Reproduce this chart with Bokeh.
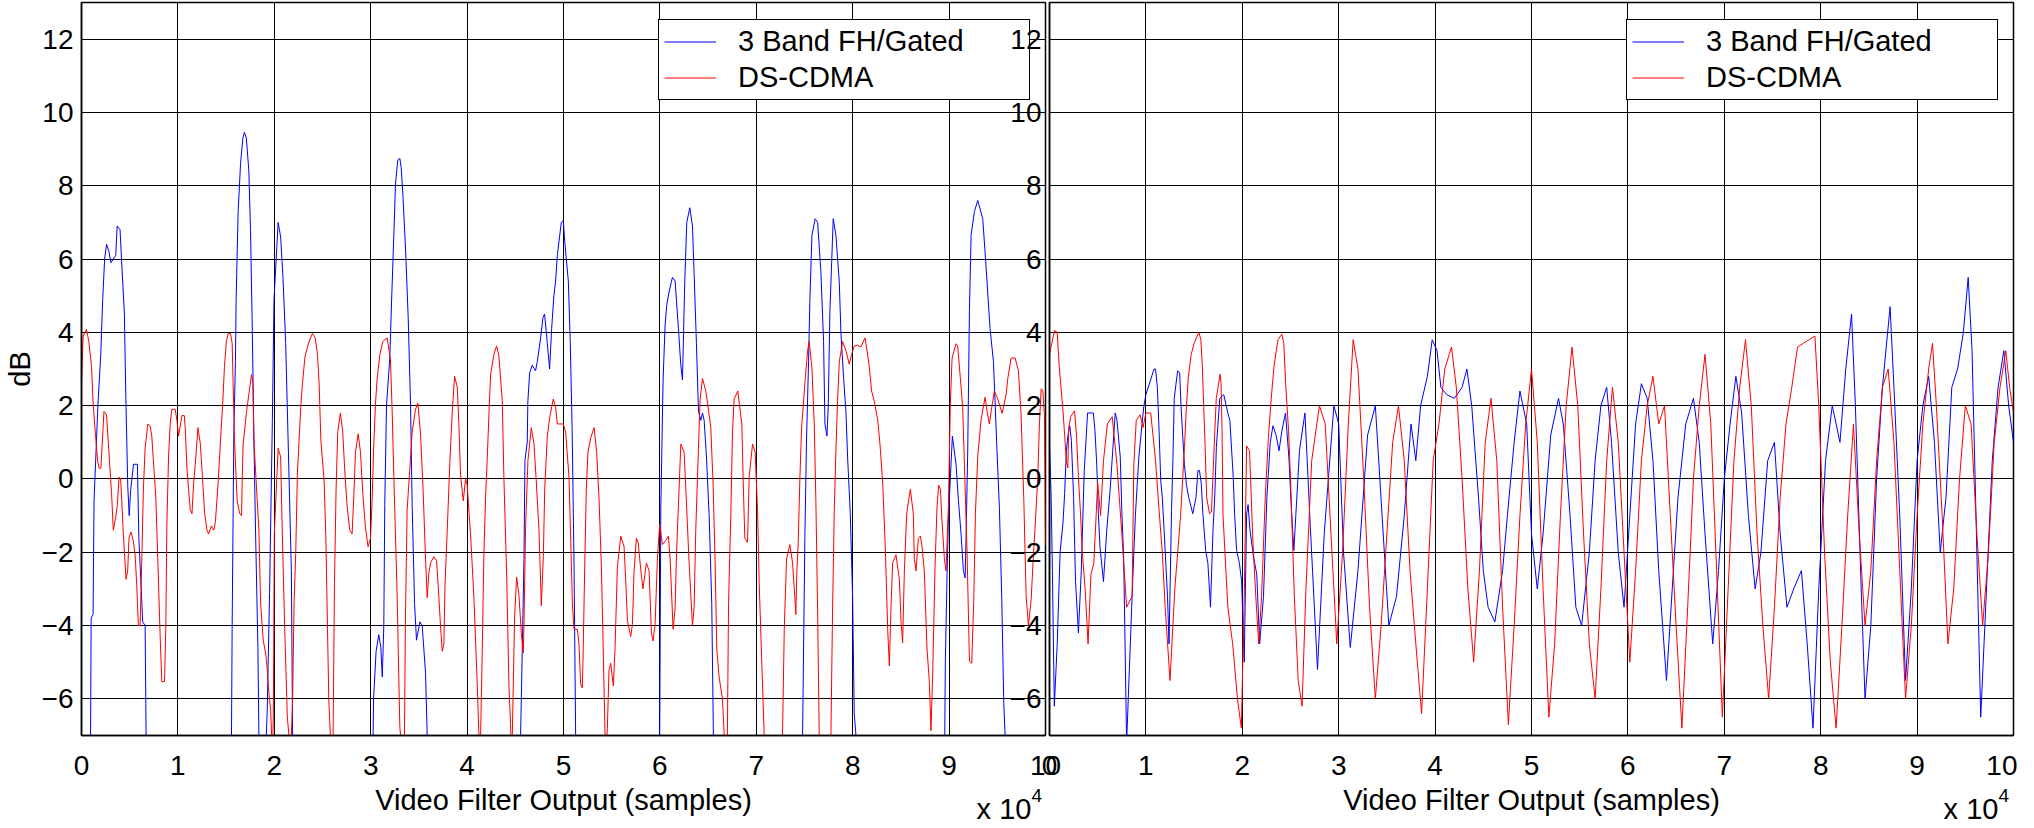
from bokeh.plotting import figure
from bokeh.layouts import row, column
from bokeh.models import FixedTicker, Legend, LegendItem, Range1d, Div
from bokeh.embed import file_html
from bokeh.resources import INLINE

# ---------------- data (x in units of 10^4 samples, y in dB) ----------------
x_ticks = [0, 1, 2, 3, 4, 5, 6, 7, 8, 9, 10]
y_ticks = [-6, -4, -2, 0, 2, 4, 6, 8, 10, 12]
series_names = ["3 Band FH/Gated", "DS-CDMA"]
x_label = "Video Filter Output (samples)"
y_label = "dB"
x_scale_note = "x 10"
x_scale_exp = "4"

# Left panel, blue (3 Band FH/Gated)
left_fh_x = [0, 0.09, 0.10, 0.12, 0.13, 0.17, 0.20, 0.22, 0.24, 0.26, 0.285, 0.305, 0.33, 0.355, 0.37, 0.40, 0.415, 0.445, 0.46, 0.48, 0.495, 0.51, 0.54, 0.58, 0.595, 0.635, 0.66, 0.67, 0.69,
             1.55, 1.556, 1.5625, 1.58, 1.597, 1.604, 1.625, 1.65, 1.674, 1.69, 1.71, 1.736, 1.753, 1.77, 1.79, 1.806, 1.83, 1.84, 1.85,
             1.91, 1.917, 1.927, 1.951, 1.98, 1.997, 2.04, 2.066, 2.09, 2.118, 2.142, 2.177, 2.19, 2.2,
             3.02, 3.025, 3.03, 3.056, 3.084, 3.105, 3.12, 3.136, 3.146, 3.164, 3.198, 3.216, 3.24, 3.257, 3.281, 3.302, 3.316, 3.333, 3.361, 3.389, 3.413, 3.43, 3.455, 3.475, 3.51, 3.534, 3.569, 3.586, 3.6,
             4.55, 4.555, 4.572, 4.59, 4.6, 4.624, 4.63, 4.649, 4.676, 4.71, 4.728, 4.763, 4.787, 4.804, 4.832, 4.856, 4.877, 4.9, 4.918, 4.936, 4.977, 4.998, 5.012, 5.05, 5.07, 5.09, 5.109, 5.126, 5.14,
             5.99, 5.998, 6.009, 6.033, 6.054, 6.071, 6.095, 6.13, 6.158, 6.192, 6.217, 6.234, 6.258, 6.279, 6.31, 6.338, 6.355, 6.379, 6.4, 6.424, 6.442, 6.459, 6.483, 6.511, 6.538, 6.555, 6.57,
             7.47, 7.48, 7.504, 7.521, 7.542, 7.556, 7.577, 7.611, 7.636, 7.67, 7.698, 7.712, 7.733, 7.746, 7.764, 7.798, 7.826, 7.861, 7.878, 7.906, 7.93, 7.947, 7.975, 7.999, 8.016, 8.034, 8.05,
             8.95, 8.955, 8.961, 8.979, 8.993, 9.034, 9.072, 9.096, 9.124, 9.148, 9.166, 9.176, 9.193, 9.211, 9.228, 9.263, 9.297, 9.349, 9.373, 9.425, 9.46, 9.494, 9.522, 9.546, 9.567, 9.581, 9.6, 10.0]
left_fh_y = [-12, -9, -3.8, -3.7, -0.6, 2.0, 3.4, 4.9, 6.0, 6.4, 6.2, 5.9, 6.0, 6.1, 6.9, 6.8, 6.0, 4.5, 2.2, -0.2, -1.0, -0.3, 0.4, 0.4, -1.6, -3.9, -4.0, -7, -12,
             -12, -7, -4.1, 1.17, 3.2, 4.9, 7.3, 8.6, 9.3, 9.46, 9.3, 8.4, 6.8, 4.35, 0.84, -1.5, -4.6, -7, -12,
             -12, -7, -6.3, -3.1, 1.6, 4.9, 7.0, 6.6, 5.5, 3.7, 1.2, -2.5, -7, -12,
             -12, -7, -6.0, -4.7, -4.25, -4.6, -5.4, -4.0, -0.7, 2.0, 3.3, 4.8, 6.65, 8.05, 8.7, 8.75, 8.5, 7.8, 6.3, 4.4, 2.07, -0.7, -3.4, -4.4, -3.9, -4.0, -5.3, -7, -12,
             -12, -7, -4.7, -2.2, 0.5, 1.0, 2.1, 2.9, 3.1, 2.95, 3.2, 3.85, 4.4, 4.5, 3.7, 3.0, 4.1, 5.0, 5.4, 6.1, 7.0, 7.05, 6.5, 5.4, 3.75, 1.3, -2.3, -7, -12,
             -12, -7, -0.84, 2.7, 4.2, 4.75, 5.1, 5.5, 5.4, 4.1, 3.1, 2.7, 5.4, 7.0, 7.4, 6.9, 5.6, 3.7, 1.85, 1.6, 1.8, 1.6, 0.6, -1.0, -3.4, -7, -12,
             -12, -7, -1.6, 1.06, 3.2, 4.9, 6.65, 7.1, 7.0, 5.65, 3.75, 1.5, 1.17, 1.95, 4.6, 7.1, 6.65, 5.36, 3.97, 2.74, 1.84, 0.6, -0.95, -3.2, -6.4, -7, -12,
             -12, -7, -5.0, -2.6, -1.06, 1.17, 0.4, -0.56, -1.5, -2.5, -2.7, -1.6, 0.73, 4.6, 6.65, 7.3, 7.6, 7.1, 6.2, 4.1, 3.2, 0.95, -0.8, -3.24, -6.1, -7, -12, -12]

# Left panel, red (DS-CDMA)
left_ds_x = [0.0, 0.01, 0.017, 0.052, 0.076, 0.104, 0.12, 0.146, 0.167, 0.184, 0.201, 0.215, 0.233, 0.26, 0.278, 0.312, 0.33, 0.354, 0.372, 0.389, 0.406, 0.417, 0.434, 0.462, 0.479, 0.493, 0.514, 0.538, 0.556, 0.573, 0.59, 0.608, 0.625, 0.642, 0.66, 0.688, 0.712, 0.729, 0.771, 0.792, 0.816, 0.833, 0.861, 0.875, 0.885, 0.903, 0.92, 0.937, 0.972, 0.99,
             1.007, 1.042, 1.066, 1.076, 1.094, 1.111, 1.128, 1.146, 1.163, 1.18, 1.208, 1.233, 1.257, 1.278, 1.302, 1.319, 1.347, 1.372, 1.389, 1.417, 1.441, 1.465, 1.483, 1.503, 1.521, 1.545, 1.563, 1.573, 1.587, 1.615, 1.642, 1.66, 1.667, 1.677, 1.712, 1.764, 1.778, 1.788, 1.84, 1.858, 1.885, 1.91, 1.927, 1.944, 1.962, 1.98, 1.99,
             2.0, 2.04, 2.066, 2.083, 2.108, 2.135, 2.17, 2.19, 2.205, 2.222, 2.24, 2.274, 2.292, 2.319, 2.361, 2.396, 2.424, 2.448, 2.465, 2.483, 2.517, 2.535, 2.552, 2.565, 2.59, 2.61, 2.624, 2.641, 2.658, 2.686, 2.71, 2.731, 2.755, 2.783, 2.807, 2.825, 2.842, 2.87, 2.894, 2.918, 2.946, 2.973, 2.998,
             3.015, 3.032, 3.05, 3.067, 3.095, 3.126, 3.171, 3.205, 3.223, 3.24, 3.274, 3.302, 3.326, 3.35, 3.361, 3.378, 3.406, 3.43, 3.465, 3.489, 3.517, 3.544, 3.569, 3.586, 3.603, 3.621, 3.655, 3.683, 3.7, 3.724, 3.742, 3.759, 3.77, 3.794, 3.821, 3.846, 3.87, 3.898, 3.915, 3.932, 3.96, 3.984,
             4.001, 4.036, 4.07, 4.105, 4.123, 4.13, 4.14, 4.157, 4.174, 4.192, 4.209, 4.226, 4.244, 4.278, 4.306, 4.33, 4.365, 4.382, 4.41, 4.434, 4.451, 4.46, 4.469, 4.493, 4.514, 4.538, 4.562, 4.583, 4.59, 4.607, 4.631, 4.666, 4.694, 4.721, 4.746, 4.77, 4.791, 4.805, 4.832, 4.86, 4.894, 4.919, 4.936, 4.998,
             5.022, 5.057, 5.074, 5.092, 5.109, 5.144, 5.161, 5.178, 5.195, 5.202, 5.22, 5.237, 5.254, 5.282, 5.317, 5.344, 5.369, 5.393, 5.414, 5.431, 5.44, 5.455, 5.472, 5.49, 5.517, 5.535, 5.559, 5.594, 5.628, 5.645, 5.663, 5.697, 5.715, 5.732, 5.756, 5.774, 5.801, 5.825, 5.86, 5.888, 5.912, 5.929, 5.95, 5.974, 5.998,
             6.026, 6.061, 6.088, 6.106, 6.137, 6.158, 6.172, 6.192, 6.217, 6.251, 6.268, 6.303, 6.338, 6.355, 6.372, 6.4, 6.417, 6.442, 6.476, 6.494, 6.528, 6.552, 6.573, 6.59, 6.615, 6.649, 6.667, 6.684, 6.7, 6.712, 6.736, 6.753, 6.77, 6.808, 6.85, 6.864, 6.881, 6.909, 6.926, 6.961, 6.988,
             7.013, 7.03, 7.058, 7.082, 7.1, 7.26, 7.272, 7.29, 7.314, 7.348, 7.376, 7.404, 7.41, 7.421, 7.435, 7.452, 7.47, 7.508, 7.532, 7.549, 7.577, 7.601, 7.618, 7.636, 7.653, 7.67, 7.76, 7.774, 7.791, 7.809, 7.826, 7.843, 7.861, 7.895, 7.93, 7.964, 7.989,
             8.016, 8.051, 8.086, 8.127, 8.148, 8.172, 8.196, 8.224, 8.259, 8.283, 8.311, 8.338, 8.363, 8.38, 8.397, 8.414, 8.449, 8.484, 8.501, 8.518, 8.536, 8.56, 8.598, 8.629, 8.639, 8.657, 8.681, 8.702, 8.719, 8.743, 8.771, 8.795, 8.812, 8.83, 8.854, 8.875, 8.892, 8.91, 8.927, 8.951, 8.968, 8.993,
             9.013, 9.031, 9.072, 9.089, 9.117, 9.141, 9.159, 9.186, 9.211, 9.235, 9.256, 9.273, 9.297, 9.332, 9.373, 9.394, 9.418, 9.436, 9.47, 9.505, 9.55, 9.591, 9.609, 9.643, 9.685, 9.719, 9.747, 9.775, 9.799, 9.823, 9.851, 9.875, 9.893, 9.92, 9.937, 9.955, 9.972, 9.989, 10.0]
left_ds_y = [2.6, 3.35, 3.9, 4.08, 3.75, 3.07, 2.1, 1.17, 0.5, 0.28, 0.3, 0.95, 1.84, 1.75, 1.0, -0.4, -1.4, -1.05, -0.72, 0.05, 0.0, -0.56, -1.5, -2.74, -2.5, -1.6, -1.45, -1.7, -2.07, -2.9, -4.0, -4.0, -2.24, -0.28, 0.84, 1.5, 1.45, 1.17, -0.5, -2.24, -4.3, -5.53, -5.53, -4.0, -1.28, 0.6, 1.5, 1.9, 1.9, 1.6,
             1.17, 1.73, 1.73, 1.4, 0.28, -0.28, -0.84, -0.95, -0.11, 0.39, 1.4, 0.95, -0.06, -0.95, -1.4, -1.5, -1.28, -1.4, -1.17, -0.11, 1.0, 2.07, 3.07, 3.75, 3.97, 3.97, 3.7, 2.6, 1.06, -0.61, -0.95, -1.0, -0.06, 0.95, 1.84, 2.85, 2.6, 1.06, -1.4, -3.4, -4.4, -4.75, -5.2, -5.85, -6.3, -7.5, -6.5,
             -1.5, 0.84, 0.6, -1.5, -4.1, -6.5, -7.5, -6.0, -3.4, -2.07, 0.17, 1.95, 2.6, 3.35, 3.75, 3.97, 3.85, 3.4, 2.6, 1.06, -0.06, -1.6, -4.1, -6.0, -7.5, -7.0, -2.85, -0.28, 1.28, 1.8, 1.28, 0.22, -0.73, -1.4, -1.5, -0.45, 0.73, 1.23, 0.73, -0.39, -1.34, -1.85, -1.62,
             -0.56, 0.95, 2.07, 2.74, 3.4, 3.75, 3.85, 3.25, 1.84, 0.06, -3.13, -6.76, -7.5, -7.0, -3.74, -0.84, 0.28, 1.28, 1.9, 2.07, 1.23, -0.34, -2.18, -3.24, -2.57, -2.29, -2.12, -2.23, -2.9, -4.0, -4.7, -4.5, -2.96, -1.4, 0.45, 1.84, 2.8, 2.51, 1.5, 0.11, -0.6, 0.0,
             -0.17, -1.51, -3.2, -5.6, -7.0, -7.5, -7.0, -4.7, -2.07, -0.5, 0.56, 1.73, 2.85, 3.4, 3.63, 3.35, 2.12, 0.0, -2.57, -5.64, -6.7, -7.5, -7.0, -3.74, -2.68, -3.18, -4.19, -4.75, -3.97, -1.28, 0.5, 1.4, 0.95, -0.22, -1.4, -3.46, -2.12, -0.28, 1.17, 1.73, 2.18, 1.95, 1.5, 1.5,
             1.28, 0.05, -1.56, -3.4, -4.1, -4.1, -4.53, -5.6, -5.7, -5.0, -2.4, -0.22, 0.73, 1.12, 1.4, 0.73, -0.56, -2.4, -4.9, -7.0, -7.5, -6.8, -5.2, -5.03, -5.65, -4.6, -2.4, -1.56, -1.84, -2.74, -3.86, -4.3, -3.97, -2.51, -1.62, -1.73, -2.46, -3.0, -2.29, -2.51, -4.2, -4.42, -3.97, -2.18, -1.23,
             -1.79, -1.68, -1.56, -2.18, -4.1, -3.52, -2.07, -0.73, 0.95, 0.73, -0.22, -2.29, -4.0, -3.5, -1.4, 0.84, 2.18, 2.74, 2.4, 2.07, 1.4, -0.17, -2.29, -4.64, -5.42, -6.0, -7.0, -7.3, -7.0, -3.4, -0.95, 1.28, 2.18, 2.4, 1.5, -0.06, -1.62, -1.73, 0.06, 0.95, 0.73,
             -0.84, -2.85, -5.1, -7.0, -7.6, -7.6, -7.0, -4.1, -2.18, -1.79, -2.29, -3.4, -3.7, -2.51, -1.73, 0.0, 1.4, 2.74, 3.5, 3.75, 3.02, 1.5, -0.6, -3.6, -7.0, -7.6, -7.6, -7.0, -3.6, -0.84, 0.78, 2.12, 3.2, 3.75, 3.5, 3.13, 3.4,
             3.63, 3.65, 3.6, 3.85, 3.52, 3.07, 2.4, 2.12, 1.62, 0.95, -0.11, -1.85, -4.1, -5.1, -3.52, -2.29, -2.07, -2.74, -3.86, -4.47, -2.51, -0.95, -0.28, -0.95, -2.18, -2.51, -1.62, -1.56, -1.84, -2.51, -4.64, -5.53, -6.87, -5.3, -2.4, -0.73, -0.17, -0.28, -1.17, -2.18, -2.51, -0.73,
             2.07, 3.3, 3.69, 3.63, 2.74, 1.95, 0.39, -1.96, -4.97, -5.03, -3.3, -0.95, 0.61, 1.62, 2.23, 1.84, 1.5, 1.84, 2.4, 2.18, 1.79, 2.29, 2.74, 3.3, 3.3, 2.96, 1.73, -0.56, -3.18, -4.0, -3.3, -2.07, -1.28, 0.06, 1.5, 2.46, 2.4, 1.73, -1.8]

# Right panel, blue (3 Band FH/Gated)
right_fh_x = [0, 0.017, 0.03, 0.05, 0.08, 0.11, 0.14, 0.157, 0.175, 0.192, 0.21, 0.227, 0.25, 0.27, 0.3, 0.33, 0.36, 0.395, 0.455, 0.472, 0.49, 0.507, 0.524, 0.56, 0.594, 0.629, 0.682, 0.7, 0.734, 0.75, 0.769, 0.8,
              0.857, 0.875, 0.892, 0.91, 0.927, 0.96, 0.979, 1.0, 1.049, 1.084, 1.10, 1.119, 1.137, 1.154, 1.17, 1.189, 1.224, 1.24, 1.266, 1.28, 1.294, 1.329, 1.35, 1.364, 1.399, 1.42, 1.444, 1.486, 1.52, 1.54, 1.556, 1.575, 1.591, 1.62, 1.643, 1.67,
              1.696, 1.714, 1.731, 1.766, 1.808, 1.85, 1.871, 1.906, 1.92, 1.941, 1.97, 1.993, 2.02, 2.045, 2.06, 2.08, 2.115, 2.15, 2.18, 2.22, 2.255, 2.29, 2.318, 2.35, 2.381, 2.41, 2.448, 2.483, 2.51, 2.535, 2.555, 2.594,
              2.65, 2.7, 2.78, 2.85, 2.95, 3.0, 3.05, 3.12, 3.2, 3.3, 3.38, 3.45, 3.52, 3.6, 3.68, 3.75, 3.8, 3.85, 3.92, 3.97, 4.02, 4.06, 4.12, 4.2, 4.28, 4.33, 4.38, 4.45, 4.5, 4.55, 4.62, 4.7, 4.75, 4.82, 4.88, 4.95,
              5.0, 5.06, 5.12, 5.2, 5.28, 5.33, 5.4, 5.46, 5.52, 5.6, 5.66, 5.72, 5.78, 5.83, 5.9, 5.96, 6.02, 6.08, 6.14, 6.2, 6.26, 6.32, 6.4, 6.46, 6.52, 6.6, 6.68, 6.74, 6.8, 6.88, 6.94,
              7.0, 7.06, 7.12, 7.18, 7.25, 7.32, 7.38, 7.45, 7.52, 7.58, 7.65, 7.72, 7.8, 7.86, 7.92, 7.98, 8.05, 8.12, 8.2, 8.26, 8.32, 8.36, 8.42, 8.46, 8.52, 8.58, 8.64, 8.72, 8.76, 8.82, 8.88, 8.94,
              9.0, 9.06, 9.12, 9.18, 9.24, 9.3, 9.36, 9.42, 9.48, 9.53, 9.57, 9.62, 9.66, 9.72, 9.78, 9.84, 9.9, 9.95, 10.0]
right_fh_y = [0.95, -0.5, -2.5, -6.2, -4.5, -2.0, -1.2, -0.4, 0.77, 1.2, 1.45, 1.05, -0.5, -2.8, -4.2, -2.5, 0.2, 1.8, 1.8, 1.3, 0.4, -0.95, -1.86, -2.8, -1.4, -0.3, 1.8, 1.6, 0.6, -0.86, -2.1, -7.2,
              -3.2, -2.0, -0.95, -0.14, 0.6, 1.5, 2.0, 2.3, 2.7, 3.0, 3.0, 2.5, 1.3, -0.05, -0.5, -1.4, -3.2, -4.5, -0.86, 0.5, 2.2, 2.95, 2.9, 2.0, 0.4, -0.15, -0.5, -0.95, -0.5, 0.23, 0.23, -0.14, -0.95, -1.95, -2.3, -3.5,
              -1.4, -0.5, 0.86, 2.2, 2.3, 1.8, 1.6, 0.05, -0.95, -1.95, -2.3, -2.8, -5.0, -0.95, -0.7, -1.4, -2.1, -2.6, -4.5, -3.2, -0.5, 1.0, 1.45, 1.2, 0.77, 1.3, 1.8, 0.6, -0.86, -1.95, -1.0, 0.8,
              1.8, -1.0, -5.2, -1.5, 2.0, 1.5, -2.0, -4.6, -2.5, 1.2, 2.0, -1.0, -4.0, -3.2, -1.0, 1.5, 0.5, 2.0, 2.8, 3.8, 3.5, 2.5, 2.3, 2.2, 2.5, 3.0, 2.0, -0.5, -2.5, -3.5, -3.9, -2.5, -1.0, 1.0, 2.4, 1.5,
              -1.5, -3.0, -1.5, 1.2, 2.2, 1.5, -1.0, -3.5, -4.0, -2.0, 0.5, 2.0, 2.5, 1.0, -2.0, -3.5, -1.0, 1.5, 2.6, 2.2, 0.5, -2.5, -5.5, -3.0, -0.5, 1.5, 2.2, 1.0, -1.5, -4.5, -2.5,
              0.0, 1.5, 2.8, 1.8, -1.0, -3.0, -2.0, 0.5, 1.0, -1.5, -3.5, -3.0, -2.5, -4.5, -6.8, -3.0, 0.5, 2.0, 1.0, 3.0, 4.5, 2.0, -3.0, -6.0, -4.0, 0.0, 2.5, 4.7, 2.5, -1.0, -5.5, -3.0,
              0.5, 2.0, 2.8, 1.0, -2.0, -0.5, 2.5, 3.0, 4.0, 5.5, 3.5, -2.0, -6.5, -3.0, 0.5, 2.5, 3.5, 2.0, 1.0]

# Right panel, red (DS-CDMA)
right_ds_x = [0, 0.052, 0.08, 0.1, 0.14, 0.157, 0.175, 0.19, 0.2, 0.22, 0.26, 0.28, 0.3, 0.32, 0.34, 0.37, 0.40, 0.43, 0.46, 0.5, 0.53, 0.56, 0.6, 0.65, 0.7, 0.75, 0.8, 0.857,
              0.875, 0.9, 0.94, 0.97, 1.0, 1.05, 1.1, 1.137, 1.17, 1.2, 1.25, 1.3, 1.36, 1.4, 1.42, 1.44, 1.47, 1.5, 1.55, 1.57, 1.585, 1.6, 1.615, 1.63, 1.66, 1.68, 1.715, 1.73, 1.77, 1.78, 1.79,
              1.8, 1.85, 1.9, 1.95, 1.99, 2.02, 2.045, 2.075, 2.09, 2.11, 2.14, 2.17, 2.2, 2.238, 2.27, 2.3, 2.33, 2.37, 2.41, 2.43, 2.45, 2.48, 2.5, 2.54, 2.58, 2.62, 2.66,
              2.72, 2.8, 2.86, 2.92, 2.98, 3.04, 3.1, 3.15, 3.2, 3.26, 3.32, 3.38, 3.44, 3.5, 3.56, 3.62, 3.68, 3.74, 3.8, 3.86, 3.92, 3.98, 4.04, 4.1, 4.17, 4.22, 4.28, 4.34, 4.4, 4.46, 4.52, 4.58, 4.64, 4.7, 4.76, 4.82, 4.88, 4.94,
              5.0, 5.06, 5.12, 5.18, 5.24, 5.3, 5.36, 5.42, 5.48, 5.54, 5.6, 5.66, 5.72, 5.78, 5.84, 5.9, 5.96, 6.02, 6.08, 6.14, 6.2, 6.26, 6.32, 6.38, 6.44, 6.5, 6.56, 6.62, 6.68, 6.74, 6.8, 6.86, 6.92, 6.98,
              7.04, 7.1, 7.16, 7.22, 7.28, 7.34, 7.4, 7.46, 7.52, 7.58, 7.64, 7.7, 7.76, 7.82, 7.88, 7.94, 7.98, 8.04, 8.1, 8.16, 8.22, 8.28, 8.34, 8.4, 8.46, 8.52, 8.58, 8.64, 8.7, 8.76, 8.82, 8.88, 8.94,
              9.0, 9.06, 9.12, 9.16, 9.2, 9.26, 9.32, 9.38, 9.44, 9.5, 9.56, 9.62, 9.68, 9.74, 9.8, 9.86, 9.92, 9.96, 10.0]
right_ds_y = [3.4, 4.05, 4.0, 3.1, 1.86, 1.2, 0.5, 0.3, 1.4, 1.7, 1.86, 1.2, 0.05, -0.86, -2.0, -3.0, -4.5, -2.6, -2.3, -0.1, -1.0, 0.5, 1.5, 1.7, 0.4, -1.5, -3.5, -3.2,
              0.4, 1.6, 1.75, 1.4, 1.8, 1.8, 0.5, -0.86, -2.0, -3.5, -5.5, -3.0, -1.0, 0.86, 1.95, 2.77, 3.4, 3.7, 4.0, 3.8, 3.1, 1.95, 0.86, -0.5, -0.95, -0.9, 1.3, 2.2, 2.86, 2.6, 1.3,
              -1.0, -3.5, -4.5, -6.0, -6.8, -3.2, 0.9, 0.77, -0.3, -1.7, -3.2, -4.5, -3.2, -0.5, 1.1, 2.2, 3.1, 3.8, 3.95, 3.7, 2.6, 1.3, 0.0, -3.2, -5.5, -6.2, -3.0,
              0.5, 2.0, 1.5, -1.5, -4.5, -2.0, 1.5, 3.8, 3.0, 0.0, -3.5, -6.0, -4.0, -1.5, 1.0, 2.0, 0.5, -2.5, -4.5, -6.4, -3.0, 0.5, 1.5, 3.0, 3.6, 2.5, 0.0, -3.0, -5.0, -2.5, 1.0, 2.2, 0.5, -3.5, -6.7, -4.0, -1.0, 1.5,
              3.0, 1.0, -3.0, -6.5, -4.5, -1.0, 2.0, 3.6, 2.0, -1.5, -4.5, -6.0, -3.0, 0.5, 2.5, 1.0, -2.0, -5.0, -2.5, 0.5, 2.0, 2.8, 1.5, 2.0, -1.0, -4.0, -6.8, -3.5, 0.0, 2.0, 3.4, 1.5, -2.5, -6.5,
              -3.0, 0.5, 2.5, 3.8, 2.0, -1.5, -4.0, -6.0, -3.5, -0.5, 1.5, 2.5, 3.6, 3.7, 3.8, 3.9, 2.0, -2.0, -5.0, -6.8, -4.0, -1.0, 1.5, -1.5, -4.0, -2.5, 0.5, 2.5, 3.0, 1.0, -2.5, -6.0, -4.0,
              -1.0, 1.5, 3.0, 3.7, 2.0, -1.0, -4.5, -3.0, 0.0, 2.0, 1.5, -1.5, -4.0, -2.0, 1.0, 2.5, 3.5, 2.5, 1.8]

FONT = "Liberation Sans"
BLUE = "#0000ff"
RED = "#ff0000"


def make_panel(fh_x, fh_y, ds_x, ds_y, with_ylabel, border_left, border_right):
    p = figure(frame_width=964, frame_height=733,
               x_range=Range1d(0, 10), y_range=Range1d(-7, 13),
               output_backend="svg", toolbar_location=None,
               min_border_left=border_left, min_border_right=border_right,
               min_border_top=2, min_border_bottom=89)
    p.background_fill_color = "white"
    p.outline_line_color = "black"
    p.outline_line_width = 1.5
    p.outline_line_alpha = 1.0

    rb = p.line(fh_x, fh_y, line_color=BLUE, line_width=1)
    rr = p.line(ds_x, ds_y, line_color=RED, line_width=1)

    p.xaxis.ticker = FixedTicker(ticks=x_ticks)
    p.yaxis.ticker = FixedTicker(ticks=y_ticks)
    for ax in (p.xaxis[0], p.yaxis[0]):
        ax.major_label_text_font = FONT
        ax.major_label_text_font_size = "28px"
        ax.major_label_text_color = "black"
        ax.axis_line_color = "black"
        ax.axis_line_width = 1.5
        ax.major_tick_in = 0
        ax.major_tick_out = 0
        ax.minor_tick_in = 0
        ax.minor_tick_out = 0
        ax.axis_label_text_font = FONT
        ax.axis_label_text_font_size = "29px"
        ax.axis_label_text_font_style = "normal"
        ax.axis_label_text_color = "black"
    p.xaxis.major_label_standoff = 20
    p.yaxis.major_label_standoff = 8
    p.xaxis.axis_label = x_label
    p.xaxis.axis_label_standoff = 6
    if with_ylabel:
        p.yaxis.axis_label = y_label
        p.yaxis.axis_label_standoff = 3

    for g in (p.xgrid[0], p.ygrid[0]):
        g.grid_line_color = "black"
        g.grid_line_alpha = 1.0
        g.grid_line_width = 1

    legend = Legend(items=[LegendItem(label=series_names[0], renderers=[rb]),
                           LegendItem(label=series_names[1], renderers=[rr])],
                    location=(577, 635))
    legend.label_text_font = FONT
    legend.label_text_font_size = "29px"
    legend.label_text_color = "black"
    legend.border_line_color = "black"
    legend.border_line_alpha = 1.0
    legend.border_line_width = 1.3
    legend.background_fill_color = "white"
    legend.background_fill_alpha = 1.0
    legend.padding = 5
    legend.spacing = 3
    legend.margin = 0
    legend.glyph_width = 52
    legend.glyph_height = 33
    legend.label_height = 33
    legend.label_width = 286
    legend.label_standoff = 22
    p.add_layout(legend)
    return p


left = make_panel(left_fh_x, left_fh_y, left_ds_x, left_ds_y, True, 79, 20)
left.border_fill_color = "white"

right = make_panel(right_fh_x, right_fh_y, right_ds_x, right_ds_y, False, 60, 4)
right.border_fill_alpha = 0.0
right.margin = (0, 0, 0, -76)

note_html = (x_scale_note +
             '<span style="font-size:19px; position:relative; top:-17px;">' +
             x_scale_exp + '</span>')
note_style = {"text-align": "right", "font-family": FONT, "font-size": "29px",
              "line-height": "29px", "color": "black", "white-space": "nowrap"}
note_left = Div(text=note_html, width=1042, height=32, margin=(-29, 0, 0, 0), styles=note_style)
note_right = Div(text=note_html, width=967, height=32, margin=(-29, 0, 0, 0), styles=note_style)

layout = column(row(left, right), row(note_left, note_right))

open("out.html", "w").write(file_html(layout, INLINE))
